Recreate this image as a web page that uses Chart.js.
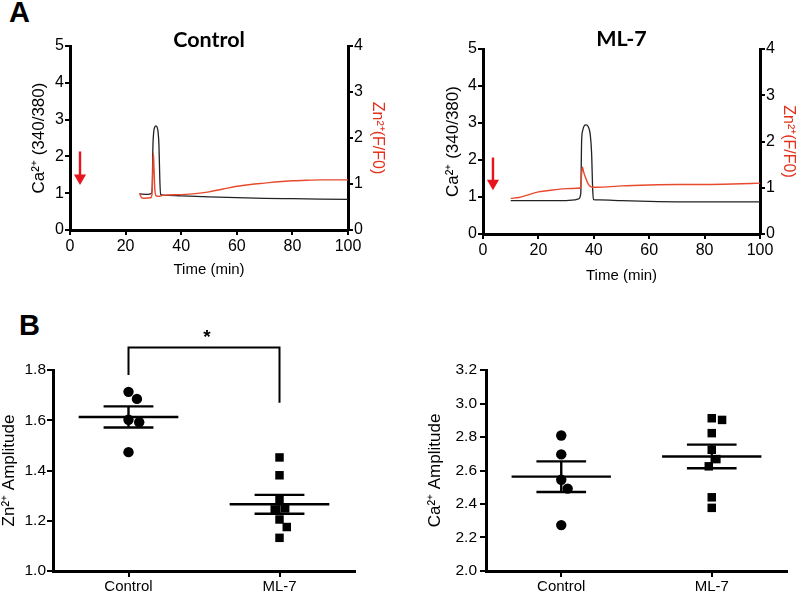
<!DOCTYPE html>
<html>
<head>
<meta charset="utf-8">
<script src="https://cdn.jsdelivr.net/npm/chart.js@4.4.1/dist/chart.umd.min.js"></script>
<style>
  html, body { margin:0; padding:0; background:#fff; }
  #wrap { position:relative; width:800px; height:595px; overflow:hidden; background:#fff; }
  canvas { position:absolute; }
  .lbl { position:absolute; font-family:"Liberation Sans", Arial, sans-serif; font-weight:bold; color:#000; line-height:1; }
</style>
</head>
<body>
<div id="wrap">
  <div class="lbl" style="left:9px; top:-2px; font-size:29px;">A</div>
  <div class="lbl" style="left:19px; top:311px; font-size:29px;">B</div>
  <canvas id="cA1" width="418" height="290" style="left:0px; top:0px;"></canvas>
  <canvas id="cA2" width="360" height="290" style="left:440px; top:0px;"></canvas>
  <canvas id="cB1" width="400" height="305" style="left:0px; top:290px;"></canvas>
  <canvas id="cB2" width="400" height="305" style="left:400px; top:290px;"></canvas>
</div>
<script>
// ---------------- DATA ----------------
// Panel A, Control: Ca2+ (340/380), left axis
const ctrlCaTime = [25, 28, 29.3, 29.6, 29.8, 30.1, 30.5, 30.9, 31.3, 31.7, 32.0, 32.3, 32.6, 33.5, 40, 50, 60, 70, 80, 90, 100];
const ctrlCa     = [0.98, 0.97, 1.0, 1.2, 2.2, 2.65, 2.8, 2.83, 2.8, 2.65, 2.3, 1.4, 0.97, 0.95, 0.93, 0.9, 0.88, 0.86, 0.85, 0.84, 0.83];
// Panel A, Control: Zn2+ (F/F0), right axis
const ctrlZnTime = [25, 25.8, 27, 29, 29.5, 29.8, 30.0, 30.2, 30.5, 31, 32, 33, 35, 40, 45, 50, 55, 60, 65, 70, 75, 80, 85, 90, 100];
const ctrlZn     = [0.80, 0.70, 0.69, 0.70, 0.78, 1.3, 1.67, 1.4, 0.9, 0.74, 0.73, 0.75, 0.76, 0.77, 0.79, 0.83, 0.89, 0.95, 0.99, 1.02, 1.05, 1.07, 1.08, 1.09, 1.09];
// Panel A, ML-7
const ml7CaTime = [10, 20, 30, 33, 34.5, 35.3, 35.6, 36, 36.5, 37.2, 38, 38.7, 39.2, 39.6, 39.9, 42, 50, 60, 70, 80, 90, 100];
const ml7Ca     = [0.9, 0.9, 0.9, 0.92, 0.95, 1.1, 2.5, 2.8, 2.92, 2.95, 2.9, 2.7, 2.2, 1.2, 0.93, 0.92, 0.9, 0.88, 0.87, 0.87, 0.87, 0.87];
const ml7ZnTime = [10, 13, 16, 20, 25, 30, 34, 35.3, 35.6, 35.9, 36.3, 37, 38, 39, 40, 45, 50, 60, 70, 80, 90, 100];
const ml7Zn     = [0.77, 0.79, 0.84, 0.91, 0.95, 0.98, 0.99, 1.0, 1.3, 1.45, 1.35, 1.22, 1.08, 1.02, 1.01, 1.02, 1.04, 1.06, 1.07, 1.07, 1.08, 1.1];
// Treatment arrows: [time, start value, head value] on Ca2+ axis
const ctrlArrow = [3.6, 2.13, 1.41];
const ml7Arrow  = [3.6, 2.07, 1.37];

// Panel B
const groups = ['Control', 'ML-7'];
const znControl = [1.713, 1.685, 1.602, 1.592, 1.473];
const znML7     = [1.452, 1.381, 1.284, 1.249, 1.245, 1.205, 1.175, 1.132];
const caControl = [2.809, 2.696, 2.545, 2.492, 2.274];
const caML7     = [2.912, 2.902, 2.823, 2.724, 2.668, 2.625, 2.440, 2.377];
// significance bracket (Zn panel): bracket height, left / right leg ends, star
const sigBracket = [1.89, 1.78, 1.67];
const sigStar = '*';

// tick labels
const timeTicks = [0, 20, 40, 60, 80, 100];
const caTraceTicks = [0, 1, 2, 3, 4, 5];
const znTraceTicks = [0, 1, 2, 3, 4];
const znAmpTicks = [1.0, 1.2, 1.4, 1.6, 1.8];
const caAmpTicks = [2.0, 2.2, 2.4, 2.6, 2.8, 3.0, 3.2];

// ---------------- HELPERS ----------------
const FONT = '"Liberation Sans", Arial, Helvetica, sans-serif';
const BLACK = '#000';
const RED_TRACE = '#e84a2e';
const RED_LABEL = '#e3321e';
const RED_ARROW = '#e8141c';
Chart.defaults.font.family = FONT;
Chart.defaults.color = BLACK;

const pts = (xs, ys) => xs.map((x, i) => ({x, y: ys[i]}));
const mean = a => a.reduce((s, v) => s + v, 0) / a.length;
const sem = a => { const m = mean(a); return Math.sqrt(a.reduce((s, v) => s + (v - m) ** 2, 0) / (a.length - 1)) / Math.sqrt(a.length); };

// simple beeswarm: offsets (in category units) so that markers do not overlap
function swarm(values, pxPerY, pxPerX, d) {
  const order = values.map((v, i) => i).sort((a, b) => values[b] - values[a]);
  const placed = [], xs = new Array(values.length);
  for (const i of order) {
    const y = values[i] * pxPerY;
    const cands = [0];
    for (const p of placed) {
      const dy = Math.abs(p.y - y);
      if (dy < d) { const w = Math.sqrt(d * d - dy * dy); cands.push(p.x + w, p.x - w); }
    }
    cands.sort((a, b) => Math.abs(a) - Math.abs(b) || b - a);
    const x = cands.find(c => placed.every(p => (p.x - c) ** 2 + (p.y - y) ** 2 >= d * d - 1e-6));
    placed.push({x, y});
    xs[i] = x / pxPerX;
  }
  return xs;
}

const titlePlugin = {
  id: 'panelTitle',
  afterDraw(chart, args, o) {
    if (!o || !o.text) return;
    const {ctx, chartArea} = chart;
    ctx.save();
    ctx.font = 'bold 21.5px Lato, ' + FONT;
    ctx.fillStyle = BLACK;
    ctx.textAlign = 'center';
    ctx.textBaseline = 'alphabetic';
    ctx.fillText(o.text, (chartArea.left + chartArea.right) / 2, o.baseline);
    ctx.restore();
  }
};
const starPlugin = {
  id: 'sigStar',
  afterDatasetsDraw(chart, args, o) {
    if (!o || !o.text) return;
    const {ctx, scales} = chart;
    ctx.save();
    ctx.font = 'bold 19px ' + FONT;
    ctx.fillStyle = BLACK;
    ctx.textAlign = 'center';
    ctx.textBaseline = 'alphabetic';
    ctx.fillText(o.text, scales.x.getPixelForValue(o.x) + 3, scales.y.getPixelForValue(o.y) - 4);
    ctx.restore();
  }
};

function axisStyle(extra) {
  return Object.assign({
    grid: { display: true, drawOnChartArea: false, drawTicks: true, tickLength: 5, color: BLACK, lineWidth: 2 },
    border: { display: true, color: BLACK, width: 3 },
  }, extra);
}
function fixedTicks(list) {
  return (scale) => { scale.ticks = list.map(v => ({value: v})); };
}

// ---------------- PANEL A ----------------
function traceChart(id, caT, ca, znT, zn, arrow, cfg) {
  return new Chart(document.getElementById(id), {
    type: 'scatter',
    data: {
      datasets: [
        { data: pts(znT, zn), yAxisID: 'y1', showLine: true, borderColor: RED_TRACE, borderWidth: 1.4,
          pointRadius: 0, cubicInterpolationMode: 'monotone' },
        { data: pts(caT, ca), yAxisID: 'y', showLine: true, borderColor: '#222', borderWidth: 1.3,
          pointRadius: 0, cubicInterpolationMode: 'monotone' },
        { data: [{x: arrow[0], y: arrow[1]}, {x: arrow[0], y: arrow[2]}], yAxisID: 'y', showLine: true,
          borderColor: RED_ARROW, borderWidth: 2.4, backgroundColor: RED_ARROW,
          pointRadius: [0, 7], pointStyle: 'triangle', pointRotation: 180, pointBorderWidth: 0 }
      ]
    },
    options: {
      responsive: false, animation: false, devicePixelRatio: 1,
      layout: { padding: { top: cfg.top, left: 0, right: 0, bottom: 0 } },
      plugins: { legend: { display: false }, tooltip: { enabled: false }, panelTitle: { text: cfg.title, baseline: cfg.titleY } },
      scales: {
        x: axisStyle({
          type: 'linear', min: 0, max: 100,
          afterBuildTicks: fixedTicks(timeTicks),
          ticks: { font: { size: 16 }, color: BLACK, padding: 2, maxRotation: 0 },
          title: { display: true, text: 'Time (min)', font: { size: 15 }, color: BLACK, padding: { top: 0, bottom: cfg.xTitlePad } },
          afterFit: s => { s.height = cfg.xH; }
        }),
        y: axisStyle({
          position: 'left', min: 0, max: 5,
          afterBuildTicks: fixedTicks(caTraceTicks),
          ticks: { font: { size: 16 }, color: BLACK, padding: 1 },
          title: { display: true, text: 'Ca²⁺ (340/380)', font: { size: 17 }, color: BLACK, padding: { top: cfg.yTitlePad, bottom: 0 } },
          afterFit: s => { s.width = cfg.yW; }
        }),
        y1: axisStyle({
          position: 'right', min: 0, max: 4,
          afterBuildTicks: fixedTicks(znTraceTicks),
          ticks: { font: { size: 16 }, color: BLACK, padding: 1 },
          title: { display: true, text: 'Zn²⁺(F/F0)', font: { size: 16 }, color: RED_LABEL, padding: { top: cfg.y1TitlePad, bottom: 0 } },
          afterFit: s => { s.width = cfg.y1W; }
        })
      }
    },
    plugins: [titlePlugin]
  });
}

traceChart('cA1', ctrlCaTime, ctrlCa, ctrlZnTime, ctrlZn, ctrlArrow,
  { title: 'Control', titleY: 47, top: 46, xH: 60, xTitlePad: 11, yW: 70, yTitlePad: 29, y1W: 70, y1TitlePad: 31 });
traceChart('cA2', ml7CaTime, ml7Ca, ml7ZnTime, ml7Zn, ml7Arrow,
  { title: 'ML-7', titleY: 46, top: 49, xH: 56, xTitlePad: 5, yW: 43, yTitlePad: 3, y1W: 40, y1TitlePad: 1.5 });

// ---------------- PANEL B ----------------
function ampChart(id, ctlVals, mlVals, yMin, yMax, ticks, yLabel, cfg) {
  const pxY = 202 / (yMax - yMin), pxX = 151;
  const jc = swarm(ctlVals, pxY, pxX, 11);
  const jm = swarm(mlVals, pxY, pxX, 10.5);
  const sets = [];
  [ctlVals, mlVals].forEach((vals, g) => {
    const m = mean(vals), e = sem(vals);
    const line = (a, b) => ({ data: [a, b], showLine: true, borderColor: BLACK, borderWidth: 2.4, pointRadius: 0, borderCapStyle: 'butt' });
    sets.push(line({x: g - 0.33, y: m}, {x: g + 0.33, y: m}));
    sets.push(line({x: g - 0.165, y: m + e}, {x: g + 0.165, y: m + e}));
    sets.push(line({x: g - 0.165, y: m - e}, {x: g + 0.165, y: m - e}));
    sets.push(line({x: g, y: m - e}, {x: g, y: m + e}));
  });
  sets.push({ data: ctlVals.map((v, i) => ({x: 0 + jc[i], y: v})), pointStyle: 'circle', pointRadius: 5.2,
    backgroundColor: BLACK, borderColor: BLACK, borderWidth: 0 });
  sets.push({ data: mlVals.map((v, i) => ({x: 1 + jm[i], y: v})), pointStyle: 'rect', pointRadius: 6,
    backgroundColor: BLACK, borderColor: BLACK, borderWidth: 0 });
  if (cfg.bracket) {
    sets.push({ data: [{x: 0, y: cfg.bracket[1]}, {x: 0, y: cfg.bracket[0]}, {x: 1, y: cfg.bracket[0]}, {x: 1, y: cfg.bracket[2]}],
      showLine: true, borderColor: BLACK, borderWidth: 2, pointRadius: 0, clip: false, borderJoinStyle: 'miter' });
  }
  return new Chart(document.getElementById(id), {
    type: 'scatter',
    data: { datasets: sets },
    options: {
      responsive: false, animation: false, devicePixelRatio: 1,
      layout: { padding: { top: 80, left: 0, right: cfg.right, bottom: 0 } },
      plugins: { legend: { display: false }, tooltip: { enabled: false },
        sigStar: cfg.bracket ? { text: sigStar, x: 0.5, y: cfg.bracket[0] } : {} },
      scales: {
        x: axisStyle({
          type: 'linear', min: -0.5, max: 1.5,
          afterBuildTicks: fixedTicks(groups.map((g, i) => i)),
          grid: { display: true, drawOnChartArea: false, drawTicks: true, tickLength: 6, color: BLACK, lineWidth: 2 },
          ticks: { font: { size: 15 }, color: BLACK, padding: 1, maxRotation: 0, callback: v => groups[v] },
          afterFit: s => { s.height = 24; }
        }),
        y: axisStyle({
          min: yMin, max: yMax,
          afterBuildTicks: fixedTicks(ticks),
          grid: { display: true, drawOnChartArea: false, drawTicks: true, tickLength: 6, color: BLACK, lineWidth: 2 },
          ticks: { font: { size: 15.5 }, color: BLACK, padding: cfg.tickPad, callback: v => Number(v).toFixed(1) },
          title: { display: true, text: yLabel, font: { size: 17 }, color: BLACK, padding: { top: cfg.titlePad, bottom: 0 } },
          afterFit: s => { s.width = cfg.yW; }
        })
      }
    },
    plugins: [starPlugin]
  });
}

ampChart('cB1', znControl, znML7, 1.0, 1.8, znAmpTicks, 'Zn²⁺ Amplitude',
  { right: 45, yW: 53, titlePad: -1, tickPad: 1, bracket: sigBracket });
ampChart('cB2', caControl, caML7, 2.0, 3.2, caAmpTicks, 'Ca²⁺ Amplitude',
  { right: 13, yW: 86, titlePad: 25, tickPad: 3 });
</script>
</body>
</html>
